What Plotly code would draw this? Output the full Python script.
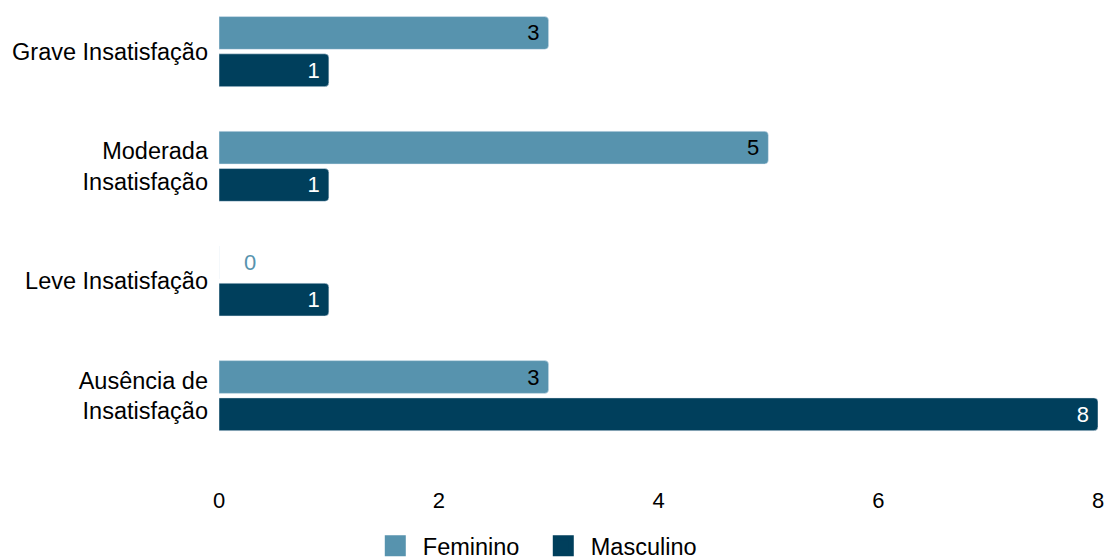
import plotly.graph_objects as go

categories = ["Grave Insatisfação", "Moderada<br>Insatisfação", "Leve Insatisfação", "Ausência de<br>Insatisfação"]
feminino = [3, 5, 0, 3]
masculino = [1, 1, 1, 8]
x_ticks = [0, 2, 4, 6, 8]

COL_F = "#5793ae"
COL_M = "#003f5c"
FONT = "Liberation Sans, Arial, sans-serif"

def text_pos(vals):
    return ["outside" if v == 0 else "inside" for v in vals]

def text_tpl(vals):
    return ["\u2002\u2002%{x}" if v == 0 else "%{x}\u00a0" for v in vals]

fig = go.Figure()
fig.add_trace(go.Bar(
    y=categories, x=feminino, orientation="h", name="Feminino",
    marker=dict(color=COL_F), text=feminino, texttemplate=text_tpl(feminino),
    textposition=text_pos(feminino), insidetextanchor="end",
    insidetextfont=dict(color="#000000", size=22, family=FONT),
    outsidetextfont=dict(color=COL_F, size=22, family=FONT),
    cliponaxis=False, showlegend=False,
))
fig.add_trace(go.Bar(
    y=categories, x=masculino, orientation="h", name="Masculino",
    marker=dict(color=COL_M), text=masculino, texttemplate=text_tpl(masculino),
    textposition=text_pos(masculino), insidetextanchor="end",
    insidetextfont=dict(color="#ffffff", size=22, family=FONT),
    outsidetextfont=dict(color=COL_M, size=22, family=FONT),
    cliponaxis=False, showlegend=False,
))
# legend entries
for name, col in [("Feminino", COL_F), ("Masculino", COL_M)]:
    fig.add_trace(go.Scatter(
        x=[None], y=[None], mode="markers", name=name,
        marker=dict(symbol="square", size=16, color=col,
                    line=dict(color=col, width=5)),
    ))

fig.update_layout(
    width=1107, height=560,
    margin=dict(l=219, r=9, t=0, b=107),
    paper_bgcolor="white", plot_bgcolor="white",
    font=dict(family=FONT, size=22, color="#000000"),
    barmode="group", bargap=0.35, bargroupgap=0.12,
    barcornerradius=4,
    showlegend=True,
    legend=dict(orientation="h", xref="container", yref="container",
                x=0.484, xanchor="center", y=0.025, yanchor="middle",
                font=dict(size=23.5, family=FONT), itemsizing="trace",
                itemwidth=45, entrywidth=108, entrywidthmode="pixels"),
)
fig.update_xaxes(range=[0, 8], tickvals=x_ticks, showgrid=False, zeroline=False,
                 showline=False, ticks="", ticklabelstandoff=32,
                 tickfont=dict(size=22, family=FONT))
fig.update_yaxes(categoryorder="array", categoryarray=categories,
                 range=[3.5, -0.45], showgrid=False, zeroline=False,
                 showline=False, ticks="", ticklabelstandoff=10,
                 tickfont=dict(size=23.5, family=FONT))

fig.write_html("out.html", config={"displayModeBar": False},
               post_script="document.body.style.margin='0';document.body.style.overflow='hidden';")
